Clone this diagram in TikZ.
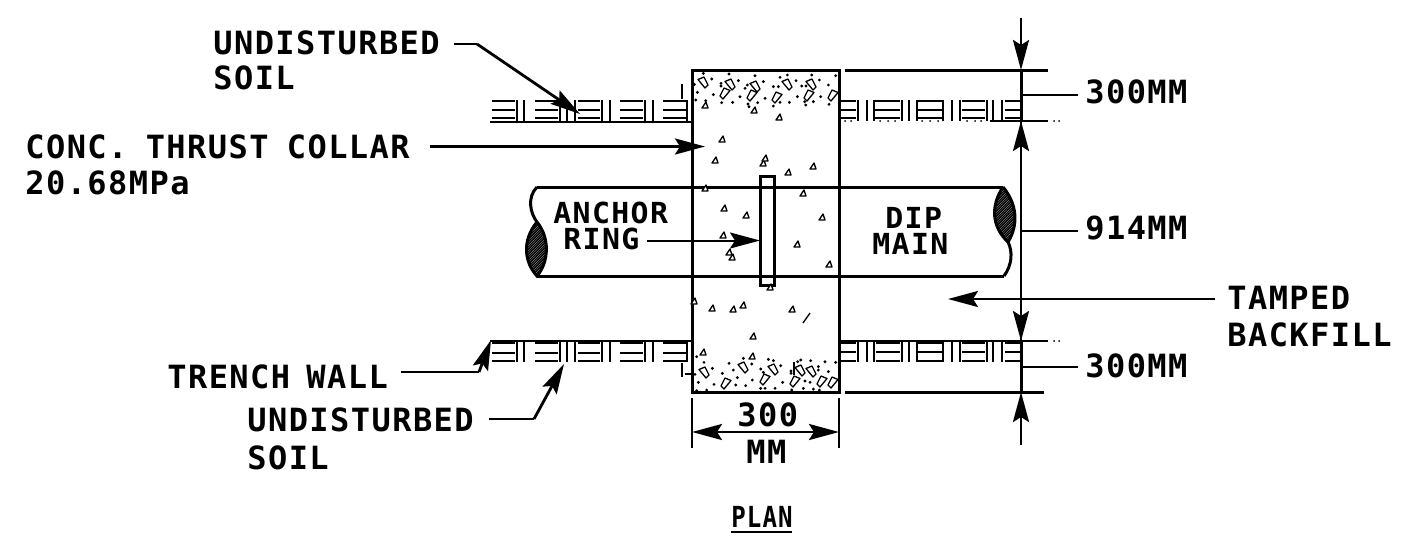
\documentclass[tikz,border=0pt]{standalone}
\usepackage{fontspec}
\usetikzlibrary{arrows.meta}
\newfontfamily\lblfont{DejaVu Sans Mono Bold}[LetterSpace=4.5]
\tikzset{
  lbl/.style={anchor=base west,inner sep=0pt,font=\fontsize{16pt}{16pt}\lblfont,text=black},
  small lbl/.style={lbl,font=\fontsize{14.5pt}{14.5pt}\lblfont},
  heavy/.style={line width=1.5pt,draw=black},
  thin line/.style={line width=0.65pt,draw=black},
  leader/.style={line width=1.4pt,draw=black,-{Stealth[length=15pt,width=8pt,inset=2.5pt]}},
  plainlead/.style={line width=1.3pt,draw=black},
  stone/.style={line width=0.65pt,draw=black,fill=white,line join=round},
}
\newcommand{\Kite}[3]{\draw[stone,shift={(#1,#2)},xscale=#3] (-5,-2.5)--(1,-5)--(5,3)--(2,6)--cycle;}
\newcommand{\Tri}[2]{\draw[stone,shift={(#1,#2)}] (-3,3)--(3,3)--(1,-3)--cycle;}
\newcommand{\SoilBlocks}[7]{%
  \foreach \a/\b in {#6}{\draw[thin line] (\a,#1)--(\b,#1) (\a,#2)--(\b,#2) (\a,#3)--(\b,#3);}
  \foreach \v in {#7}{\draw[thin line] (\v,#4)--(\v,#5);}%
}
\begin{document}
\begin{tikzpicture}[x=0.5pt,y=-0.5pt]
\useasboundingbox (0,0) rectangle (1404,553);
% soil
\SoilBlocks{101}{110}{118}{100}{121}{492/515,535/558,578/600,620/643,663/687}{517,524,560,567,575,602,610,645,653,687}
\SoilBlocks{343}{353}{361}{342}{362}{492/515,535/558,578/600,620/643,663/687}{517,524,560,567,575,602,610,645,653,687}
\SoilBlocks{101}{110}{118}{100}{121}{841/856,875/900,917/942,962/985,1005/1021}{858,867,874,902,909,917,943,952,960,987,993,1002}
\SoilBlocks{343}{352}{361}{342}{362}{841/856,876/900,918/942,962/985,1005/1021}{858,867,874,902,909,917,943,952,960,987,993,1002}
\draw[thin line,line width=1pt] (490,121.5)--(692,121.5) (490,341)--(692,341) (839,341)--(1048,341);
\draw[thin line,line width=1pt] (682,84)--(682,99) (682,363)--(682,377) (685,374)--(692,374);
\draw[thin line,line width=1pt] (990,121)--(1048,121);
\foreach \x/\y in {845/121,851/121,880/121,888/121,895/121,922/121,930/121,938/121,967/121,975/121,981/121,1054/121,1059/121,1054/341,1059/341}{\fill (\x,\y) circle (0.5pt);}
% pipe
\coordinate (ptl) at (537,187); \coordinate (ptr) at (1003,187);
\coordinate (pbl) at (537,276); \coordinate (pbr) at (1004,276);
\draw[heavy] (ptl)--(ptr) (pbl)--(pbr);
\draw[heavy] (ptl) .. controls (527,197) and (530,213) .. (537,222);
\draw[heavy] (1008,242) .. controls (1013,252) and (1012,265) .. (pbr);
\begin{scope}
\clip (537,222) .. controls (522,240) and (524,262) .. (pbl) .. controls (549,262) and (550,238) .. (537,222);
\foreach \h in {-40,-37.5,...,60}{\draw[line width=0.7pt] (480+\h,300) -- ++(120,-120);}
\end{scope}
\draw[heavy] (537,222) .. controls (522,240) and (524,262) .. (pbl) .. controls (549,262) and (550,238) .. (537,222);
\begin{scope}
\clip (ptr) .. controls (991,205) and (991,226) .. (1008,242) .. controls (1018,226) and (1018,205) .. (ptr);
\foreach \h in {-40,-37.5,...,60}{\draw[line width=0.7pt] (920+\h,300) -- ++(120,-120);}
\end{scope}
\draw[heavy] (ptr) .. controls (991,205) and (991,226) .. (1008,242) .. controls (1018,226) and (1018,205) .. (ptr);
% collar
\draw[heavy] (692,70) rectangle (839,392);
\draw[heavy] (760,176) rectangle (774,285);
% aggregate
\begin{scope}[shift={(690,60)},x=0.1667pt,y=-0.1667pt]
\foreach \x/\y in {40/40,65/57,13/73,22/97,17/120,70/104,47/122,93/70,93/78,117/42,145/62,128/127,95/128,150/110,195/47,220/65,172/75,165/85,225/115,174/132,203/128,177/140,250/80,265/80,270/52,292/45,318/62,250/138,270/127,298/127,322/110,335/78,348/78,365/45,388/60,415/75,392/110,344/125,370/125,347/135,437/47,417/133}
  {\fill (\x,\y) circle (0.8pt);}
\end{scope}
\begin{scope}[shift={(690,275)},x=0.1667pt,y=-0.1667pt]
\foreach \x/\y in {20/245,42/262,67/280,15/298,25/322,72/328,117/265,130/285,97/295,142/308,137/330,167/332,187/315,160/250,185/267,235/253,250/257,272/272,212/282,220/292,278/322,255/340,225/340,212/340,303/288,303/295,323/260,332/255,362/257,405/260,437/262,385/275,385/285,415/290,345/318,360/322,340/340,370/342,388/345,50/345,20/347,305/345}
  {\fill (\x,\y) circle (0.8pt);}
\end{scope}
\foreach \x/\y in {703/82,730/84,755/86,787/84,811/84}{\Kite{\x}{\y}{1}}
\foreach \x/\y in {725/93,752/95,777/97,809/95,833/95}{\Kite{\x}{\y}{-1}}
\foreach \x/\y in {704/372,743/367,773/369,800/370,811/371}{\Kite{\x}{\y}{1}}
\foreach \x/\y in {726/383,765/379,795/381,822/381,833/382}{\Kite{\x}{\y}{-1}}
\foreach \x/\y in {705/105,754/110,779/117,722/139,715/160,763/163,788/172,813/166,705/188,803/193,724/208,746/215,822/217,723/235,797/244,732/257,729/252,829/264,770/287,694/301,712/308,733/309,743/305,792/309,753/336,703/352,752/356,765/158}{\Tri{\x}{\y}}
\draw[stone] (803,323)--(810,313);
\draw[thin line] (794,362)--(794,375);
% dimensions right
\coordinate (dt) at (1021,18); \coordinate (d1) at (1021,70); \coordinate (d2) at (1021,121);
\coordinate (d3) at (1021,341); \coordinate (d4) at (1021,392); \coordinate (db) at (1021,445);
\draw[heavy] (845,70)--(1048,70);
\draw[heavy] (845,392)--(1044,392);
\draw[leader] (dt)--(d1);
\draw[leader] (db)--(d4);
\draw[leader] (d3)--(d2);
\draw[leader] (d2)--(d3);
\draw[heavy] (d1)--(d2) (d3)--(d4);
% texts
\node[lbl] (us1) at (213,54) {UNDISTURBED};
\node[lbl] (us1b) at (213,89) {SOIL};
\node[lbl] (cc) at (25,158) {CONC.\hspace{-1.2pt} THRUST\hspace{-1.2pt} COLLAR};
\node[lbl] (cc2) at (25,194) {20.68MPa};
\node[lbl] (tw) at (167,388) {TRENCH\hspace{-2.2pt} WALL};
\node[lbl] (us2) at (247,431) {UNDISTURBED};
\node[lbl] (us2b) at (247,469) {SOIL};
\node[small lbl] (ar) at (553,223) {\scalebox{1.03}[1]{ANCHOR}};
\node[small lbl] (ar2) at (563,249) {\scalebox{1.03}[1]{RING}};
\node[small lbl] (dm) at (885,228) {\scalebox{1.03}[1]{DIP}};
\node[small lbl] (dm2) at (872,254) {\scalebox{1.03}[1]{MAIN}};
\node[lbl] (m300a) at (1085,103) {300MM};
\node[lbl] (m914) at (1085,239) {914MM};
\node[lbl] (m300b) at (1085,377) {300MM};
\node[lbl] (tb) at (1227,309) {TAMPED};
\node[lbl] (tb2) at (1227,346) {BACKFILL};
\node[lbl] (w300) at (737,426) {300};
\node[lbl] (wmm) at (746,463) {MM};
\node[small lbl] (pl) at (731,527) {\scalebox{0.83}[1]{PLAN}};
\draw[heavy,line width=1.1pt] (pl.base west)++(0,5) -- ++(61,0);
% leaders
\coordinate (a1) at (454,44); \coordinate (a2) at (477,44); \coordinate (a3) at (580,114);
\draw[plainlead] (a1)--(a2);
\draw[leader] (a2)--(a3);
\coordinate (b1) at (430,146.5); \coordinate (b2) at (705,146.5);
\draw[leader] (b1)--(b2);
\coordinate (c1) at (401,372); \coordinate (c2) at (479,372); \coordinate (c3) at (491,340);
\draw[plainlead] (c1)--(c2);
\draw[leader] (c2)--(c3);
\coordinate (e1) at (489,419); \coordinate (e2) at (534,419); \coordinate (e3) at (564,364);
\draw[plainlead] (e1)--(e2);
\draw[leader] (e2)--(e3);
\coordinate (f1) at (647,240.5); \coordinate (f2) at (760,240.5);
\draw[leader,line width=1pt] (f1)--(f2);
\coordinate (g1) at (1215,299); \coordinate (g2) at (948,299);
\draw[leader] (g1)--(g2);
\coordinate (h1) at (1021,95); \coordinate (h2) at (1078,95);
\coordinate (i1) at (1021,231); \coordinate (i2) at (1078,231);
\coordinate (j1) at (1021,367); \coordinate (j2) at (1078,367);
\draw[plainlead] (h1)--(h2);
\draw[plainlead,line width=1pt] (i1)--(i2);
\draw[plainlead] (j1)--(j2);
% width dim
\coordinate (k1) at (692,398); \coordinate (k2) at (692,448);
\coordinate (l1) at (839,398); \coordinate (l2) at (839,448);
\coordinate (m1) at (692,432); \coordinate (m2) at (839,432);
\draw[plainlead] (k1)--(k2) (l1)--(l2);
\draw[leader,{Stealth[length=15pt,width=8pt,inset=2.5pt]}-{Stealth[length=15pt,width=8pt,inset=2.5pt]}] (m1)--(m2);
\end{tikzpicture}
\end{document}
